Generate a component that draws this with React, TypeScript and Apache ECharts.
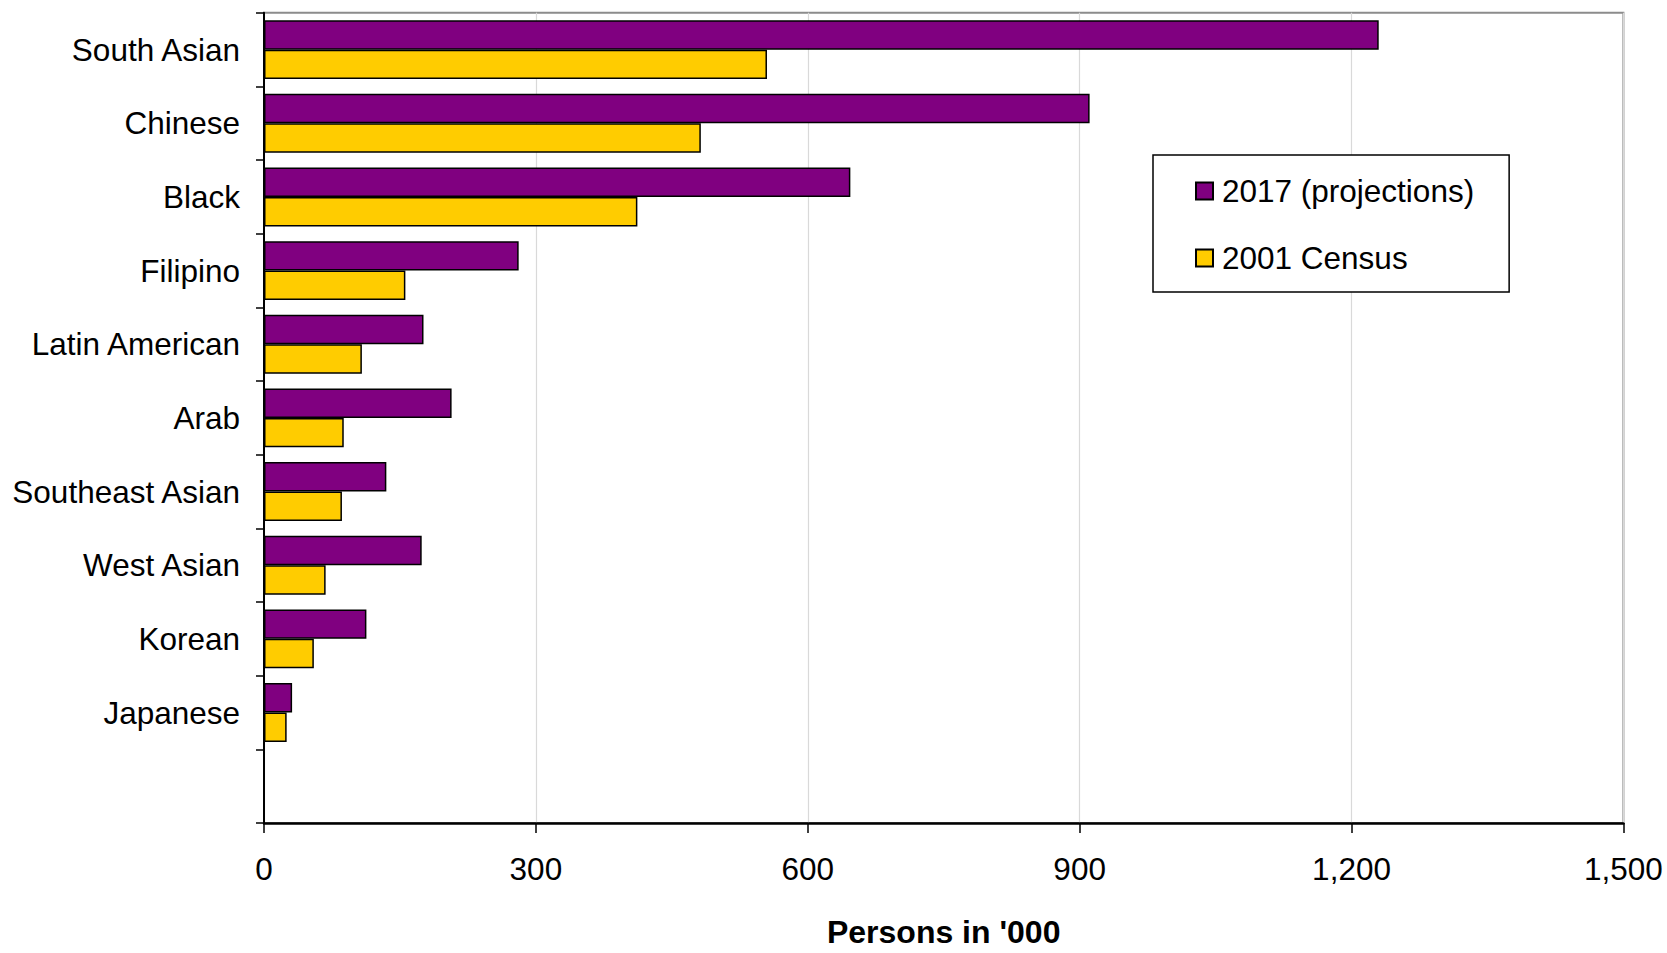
import React, { useEffect, useRef } from "react";
import * as echarts from "echarts";

const categories = [
  "South Asian",
  "Chinese",
  "Black",
  "Filipino",
  "Latin American",
  "Arab",
  "Southeast Asian",
  "West Asian",
  "Korean",
  "Japanese",
  "",
];
const proj2017 = [1230, 911, 647, 281, 176, 207, 135, 174, 113, 31, null];
const census2001 = [555, 482, 412, 156, 108, 88, 86, 68, 55, 25, null];
const seriesNames = ["2017 (projections)", "2001 Census"];
const xMin = 0;
const xMax = 1500;
const xInterval = 300;
const xAxisTitle = "Persons in '000";

const FONT = "'Liberation Sans', Arial, sans-serif";
const FS = 31.5;

export default function App() {
  const ref = useRef<HTMLDivElement>(null);
  useEffect(() => {
    document.body.style.margin = "0";
    if (!ref.current) return;
    const chart = echarts.init(ref.current, undefined, { renderer: "svg" });
    chart.setOption({
      animation: false,
      backgroundColor: "#ffffff",
      grid: {
        left: 264,
        right: 43.6,
        top: 12.8,
        bottom: 124,
        containLabel: false,
        show: true,
        borderColor: "#8c8c8c",
        borderWidth: 2,
        backgroundColor: "transparent",
      },
      legend: {
        orient: "vertical",
        left: 1153,
        top: 155,
        padding: [20, 35, 18, 42],
        borderColor: "#000",
        borderWidth: 1.5,
        backgroundColor: "#fff",
        itemWidth: 17,
        itemHeight: 17,
        itemGap: 35,
        icon: "rect",
        textStyle: {
          fontFamily: FONT,
          fontSize: FS,
          color: "#000",
          lineHeight: 30,
          padding: [0, 0, 0, 4],
        },
        data: seriesNames,
      },
      xAxis: {
        type: "value",
        min: xMin,
        max: xMax,
        interval: xInterval,
        name: xAxisTitle,
        nameLocation: "middle",
        nameGap: 93,
        nameTextStyle: {
          fontFamily: FONT,
          fontSize: 32,
          fontWeight: "bold",
          color: "#000",
        },
        axisLine: { show: true, lineStyle: { color: "#000", width: 2.5 } },
        axisTick: { show: true, length: 10, lineStyle: { color: "#000", width: 1.5 } },
        axisLabel: {
          fontFamily: FONT,
          fontSize: FS,
          color: "#000",
          margin: 30,
          formatter: (v: number) => v.toLocaleString("en-US"),
        },
        splitLine: { show: true, lineStyle: { color: "#d9d9d9", width: 1.2 } },
      },
      yAxis: {
        type: "category",
        data: categories,
        inverse: true,
        axisLine: { show: true, lineStyle: { color: "#000", width: 2 } },
        axisTick: { show: true, length: 8, lineStyle: { color: "#000", width: 1.5 } },
        axisLabel: {
          fontFamily: FONT,
          fontSize: FS,
          color: "#000",
          margin: 24,
        },
        splitLine: { show: false },
      },
      series: [
        {
          name: seriesNames[0],
          type: "bar",
          data: proj2017,
          barGap: "0%",
          barCategoryGap: "20%",
          itemStyle: { color: "#800080", borderColor: "#000", borderWidth: 1.5 },
        },
        {
          name: seriesNames[1],
          type: "bar",
          data: census2001,
          barGap: "0%",
          barCategoryGap: "20%",
          itemStyle: { color: "#FFCC00", borderColor: "#000", borderWidth: 1.5 },
        },
      ],
    });
    return () => chart.dispose();
  }, []);
  return (
    <div
      ref={ref}
      style={{ position: "absolute", left: 0, top: 0, width: 1667, height: 953 }}
    />
  );
}
